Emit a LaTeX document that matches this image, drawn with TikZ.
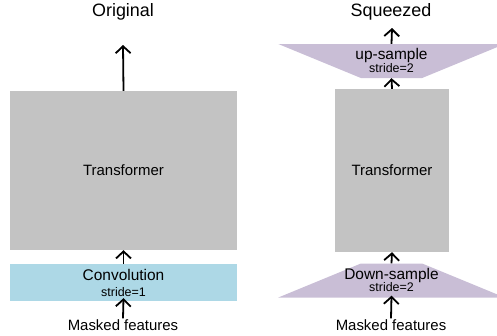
\documentclass[tikz,border=0pt]{standalone}
\usepackage{fontspec}
\setmainfont{Liberation Sans}
\usetikzlibrary{arrows.meta,shapes.geometric,positioning}

\definecolor{tfgray}{RGB}{195,195,195}
\definecolor{convblue}{RGB}{173,216,230}
\definecolor{samplepurple}{RGB}{201,190,214}

\tikzset{
  title/.style={font=\fontsize{18}{21}\selectfont, inner sep=1bp},
  label/.style={font=\fontsize{15}{17}\selectfont, inner sep=1bp},
  boxtext/.style={font=\fontsize{15.5}{17}\selectfont, inner sep=0pt, anchor=base},
  stridetext/.style={font=\fontsize{12.5}{13}\selectfont, inner sep=0pt, anchor=base},
  tfblock/.style={rectangle, fill=tfgray, inner sep=0pt, font=\fontsize{15}{17}\selectfont},
  convbox/.style={rectangle, fill=convblue, inner sep=0pt},
  trapbox/.style={trapezium, fill=samplepurple, inner sep=0pt,
    trapezium stretches=true, minimum width=227bp, minimum height=34bp},
  arr/.style={-{Straight Barb[length=7bp,width=15bp]}, line width=1.8bp},
}

\begin{document}
\begin{tikzpicture}[x=1bp,y=-1bp]
  \clip (0,0) rectangle (497,335);

  % Original
  \node[title] (origtitle) at (123,12) {Original};
  \node[tfblock, minimum width=227bp, minimum height=159bp] (origtf) at (123.5,170.5) {Transformer};
  \node[convbox, minimum width=227bp, minimum height=37bp] (conv) at (123.5,282.5) {};
  \node[boxtext] (convname) at (123.5,280.3) {Convolution};
  \node[stridetext] (convstride) at (123.5,296.3) {stride=1};
  \node[label] (origin) at (123,325) {Masked features};
  \coordinate (origout) at (123,45);

  \draw[arr] (origin.north) -- ([yshift=3bp]conv.south);
  \draw[arr] (conv.north) -- (origtf.south);
  \draw[arr] (origtf.north) -- (origout);

  % Squeezed
  \node[title] (sqtitle) at (391,12) {Squeezed};
  \node[trapbox, trapezium left angle=148.5, trapezium right angle=148.5] (upsample) at (391.5,61) {\phantom{M}};
  \node[boxtext] (upname) at (391.5,59.3) {up-sample};
  \node[stridetext] (upstride) at (391.5,72.3) {stride=2};
  \node[tfblock, minimum width=114bp, minimum height=163bp] (sqtf) at (392,170.5) {Transformer};
  \node[trapbox, trapezium left angle=31.5, trapezium right angle=31.5] (downsample) at (391.5,280.5) {\phantom{M}};
  \node[boxtext] (downname) at (391.5,279.3) {Down-sample};
  \node[stridetext] (downstride) at (391.5,291.3) {stride=2};
  \node[label] (sqin) at (391,325) {Masked features};
  \coordinate (sqout) at (392,28);

  \draw[arr] (sqin.north) -- ([yshift=2bp]downsample.south);
  \draw[arr] (downsample.north) -- (sqtf.south);
  \draw[arr] (sqtf.north) -- (upsample.south);
  \draw[arr] (upsample.north) -- (sqout);
\end{tikzpicture}
\end{document}
